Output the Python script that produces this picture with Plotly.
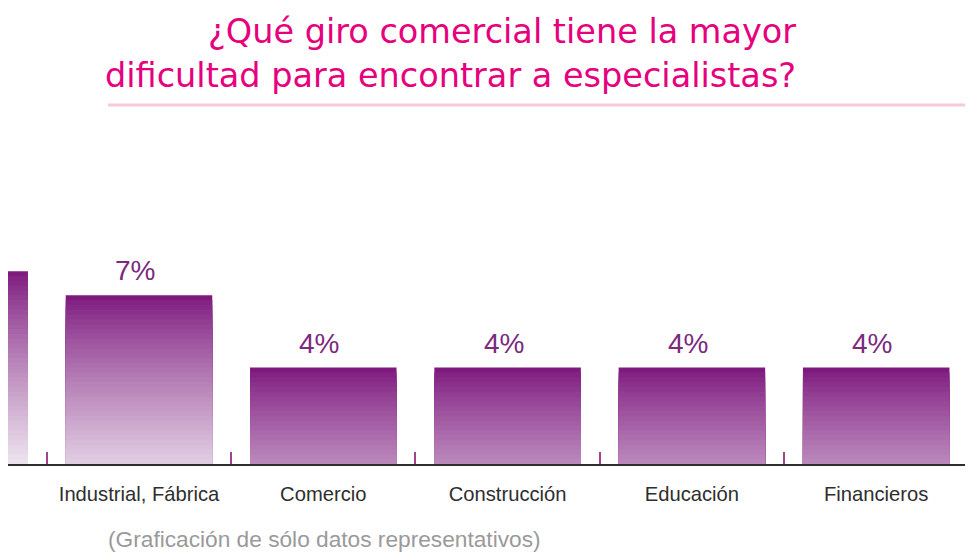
import plotly.graph_objects as go

# datos
categorias = ["Servicios", "Industrial, Fábrica", "Comercio", "Construcción", "Educación", "Financieros"]
valores = [8, 7, 4, 4, 4, 4]
etiquetas = ["8%", "7%", "4%", "4%", "4%", "4%"]

titulo = "¿Qué giro comercial tiene la mayor<br>dificultad para encontrar a especialistas?"
nota = "(Graficación de sólo datos representativos)"

W, H = 973, 553
OFF = 8  # la página deja 8 px de margen arriba e izquierda

# degradado: morado oscuro arriba, lila claro hacia abajo
c_top = (126, 26, 126)
c_bot = (236, 226, 238)
paso = 0.2
n = int(8 / paso)

fig = go.Figure()
for k in range(n):
    t = (k / (n - 1)) ** 0.85
    col = tuple(round(a + (b - a) * t) for a, b in zip(c_top, c_bot))
    alturas = [max(v - k * paso, 0) for v in valores]
    fig.add_trace(go.Bar(
        x=categorias,
        y=alturas,
        marker=dict(color="rgb(%d,%d,%d)" % col, line=dict(width=0)),
        width=0.795,
        hoverinfo="skip",
        showlegend=False,
    ))

# etiquetas de porcentaje sobre las barras
anotaciones = [
    dict(x=c, y=v, text=e, xref="x", yref="y", yanchor="bottom", yshift=7, xshift=-4,
         showarrow=False,
         font=dict(family="Liberation Sans, Arial, sans-serif", size=28, color="#7B2A7F"))
    for c, v, e in zip(categorias, valores, etiquetas)
]

px = lambda x: (x - OFF) / W
py = lambda y: 1 - (y - OFF) / H

anotaciones += [
    dict(
        text=titulo, xref="paper", yref="paper",
        x=px(798), y=py(10), xanchor="right", yanchor="top", align="right",
        showarrow=False,
        font=dict(family="DejaVu Sans, sans-serif", size=33.5, color="#E6007E"),
    ),
    dict(
        text=nota, xref="paper", yref="paper",
        x=px(106), y=py(539), xanchor="left", yanchor="middle",
        showarrow=False,
        font=dict(family="Liberation Sans, Arial, sans-serif", size=22.7, color="#9A9A9A"),
    ),
]

fig.update_layout(
    width=W, height=H,
    margin=dict(l=0, r=0, t=0, b=0),
    paper_bgcolor="white", plot_bgcolor="white",
    barmode="overlay",
    xaxis=dict(
        type="category",
        categoryorder="array", categoryarray=categorias,
        range=[1 + (OFF - 139) / 184.3, 1 + (W + OFF - 139) / 184.3],
        showgrid=False, zeroline=False,
        showline=True, linecolor="#2E2E2E", linewidth=2,
        ticks="inside", tickson="boundaries", ticklen=12, tickwidth=1.5, tickcolor="#A0438F",
        tickfont=dict(family="Liberation Sans, Arial, sans-serif", size=20.2, color="#2E2E2E"),
        tickangle=0, automargin=False,
        ticklabelstandoff=11,
        layer="below traces",
    ),
    yaxis=dict(
        range=[0, 10], domain=[py(464), py(464 - 241)],
        showgrid=False, zeroline=False, showticklabels=False, showline=False,
        automargin=False,
    ),
    shapes=[dict(
        type="line", xref="paper", yref="paper",
        x0=px(108), x1=1, y0=py(105), y1=py(105),
        line=dict(color="#F7C9DB", width=3),
    )],
    annotations=anotaciones,
)

fig.write_html("out.html")
